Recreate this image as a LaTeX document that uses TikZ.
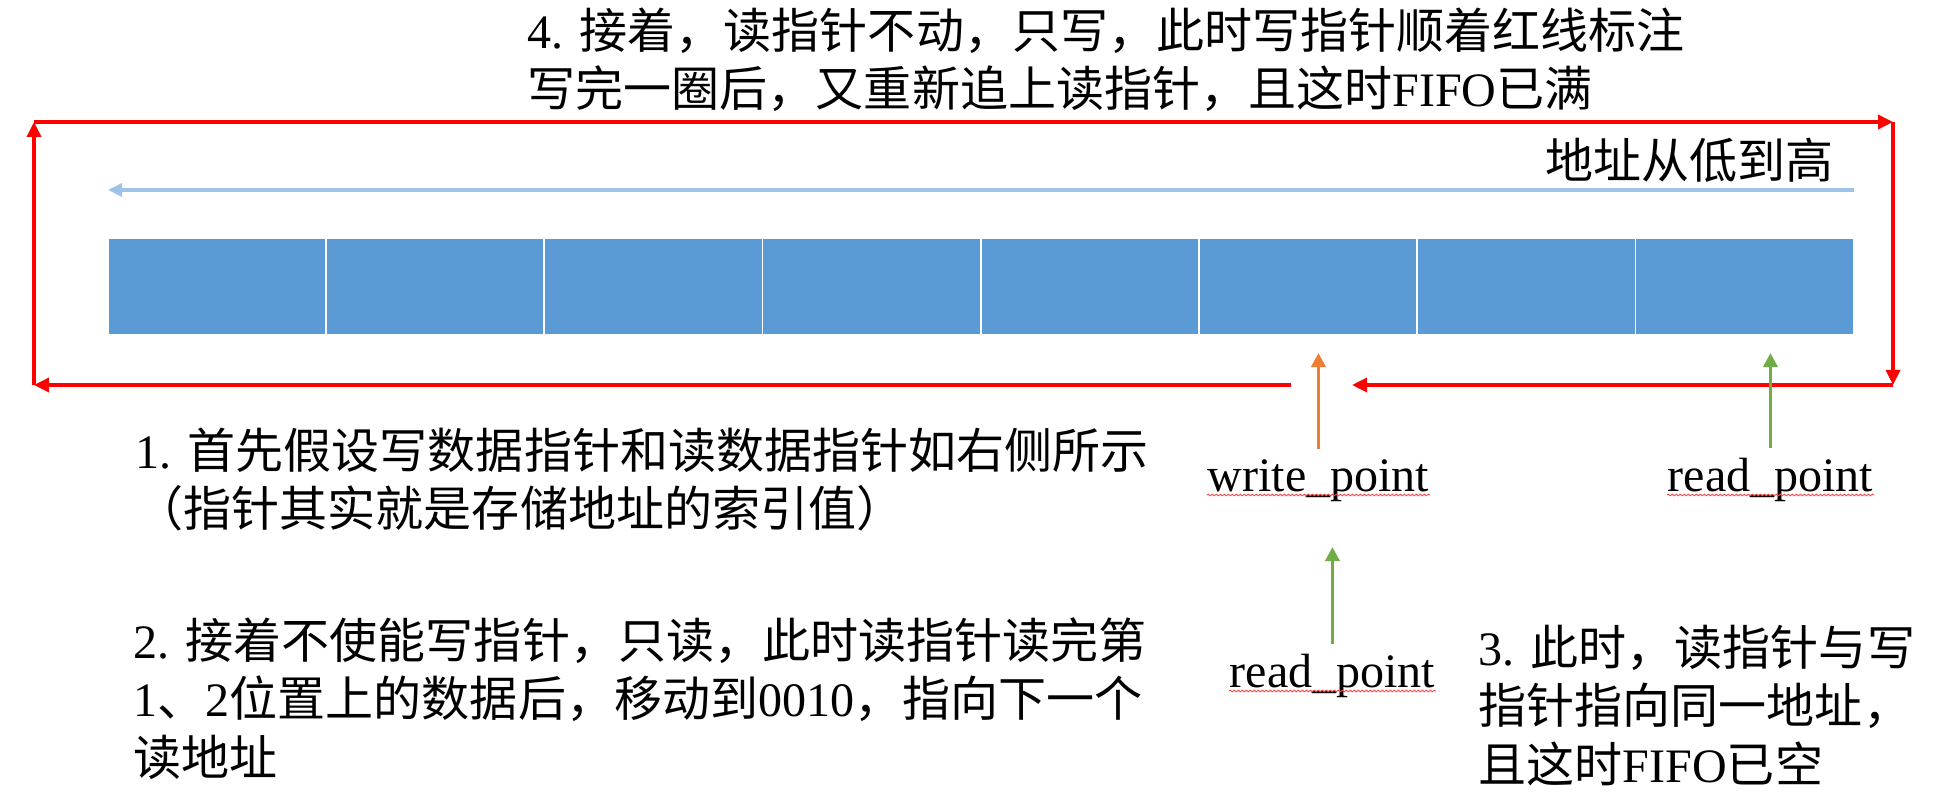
\documentclass[tikz,border=0pt]{standalone}
\usepackage{fontspec}
\setmainfont{Liberation Serif}
\newfontfamily\cjkfont{Noto Sans CJK SC}
\newcommand\zhtxt[1]{{\cjkfont #1}}
\usetikzlibrary{arrows.meta,decorations.pathmorphing}
\definecolor{cellblue}{HTML}{5B9BD5}
\definecolor{addrblue}{HTML}{9DC3E6}
\definecolor{loopred}{HTML}{FF0000}
\definecolor{wporange}{HTML}{ED7D31}
\definecolor{rpgreen}{HTML}{70AD47}
\tikzset{
  cell/.style={fill=cellblue, draw=none, inner sep=0pt, minimum width=2.1625cm, minimum height=0.95cm, anchor=north west},
  txt/.style={inner sep=0pt, anchor=base west, align=left, font=\fontsize{13.66pt}{16.5pt}\selectfont},
  lbl/.style={inner xsep=0pt, inner ysep=0.1cm, anchor=base west, font=\fontsize{13.66pt}{16.5pt}\selectfont},
  loop/.style={draw=loopred, line width=0.034cm, -{Triangle[length=0.15cm,width=0.14cm]}},
  addrarrow/.style={draw=addrblue, line width=0.032cm, -{Triangle[length=0.14cm,width=0.13cm]}},
  ptrarrow/.style={line width=0.035cm, -{Triangle[length=0.14cm,width=0.14cm]}},
  squig/.style={draw=red!75, line width=0.25pt, decorate, decoration={snake, segment length=0.04cm, amplitude=0.008cm}}
}
\begin{document}
\begin{tikzpicture}[x=0.01cm,y=-0.01cm]
\useasboundingbox (0,0) rectangle (1943,795);

% memory cells
\foreach \i in {1,...,8}{
  \node[cell] (c\i) at ({108+218.25*(\i-1)},238) {};
}

% address direction
\draw[addrarrow] ([yshift=0.48cm]c8.north east) -- ([yshift=0.48cm]c1.north west);
\node[txt] (addr) at (1545,179) {\zhtxt{地址从低到高}};

% red loop
\coordinate (BL) at (34,385);
\coordinate (TL) at (34,122);
\coordinate (TR) at (1893,122);
\coordinate (BR) at (1893,385);
\coordinate (gapL) at (1291,385);
\coordinate (gapR) at (1352,385);
\draw[loop] (gapL) -- (BL);
\draw[loop] (BL) -- (TL);
\draw[loop] (TL) -- (TR);
\draw[loop] (TR) -- (BR);
\draw[loop] (BR) -- (gapR);

% pointer labels
\node[lbl] (wp) at (1207,492) {write\_point};
\node[lbl] (rp) at (1667,492) {read\_point};
\node[lbl] (rp2) at (1229,688) {read\_point};
\coordinate (wpT) at (1321,353);
\coordinate (rpT) at (1769,353);
\coordinate (rp2T) at (1331,547);
\draw[ptrarrow, draw=wporange, fill=wporange] (wp.north) -- (wp.north |- wpT);
\draw[ptrarrow, draw=rpgreen, fill=rpgreen] (rp.north) -- (rp.north |- rpT);
\draw[ptrarrow, draw=rpgreen, fill=rpgreen] (rp2.north) -- (rp2.north |- rp2T);
\draw[squig] ([yshift=-0.03cm]wp.base west) -- ([yshift=-0.03cm]wp.base east);
\draw[squig] ([yshift=-0.03cm]rp.base west) -- ([yshift=-0.03cm]rp.base east);
\draw[squig] ([yshift=-0.03cm]rp2.base west) -- ([yshift=-0.03cm]rp2.base east);

% explanations (anchor = baseline of the last line)
\node[txt] (t4) at (527,107) {4. \zhtxt{接着，读指针不动，只写，此时写指针顺着红线标注}\\
\zhtxt{写完一圈后，又重新追上读指针，且这时}FIFO\zhtxt{已满}};
\node[txt] (t1) at (135,527) {1. \zhtxt{首先假设写数据指针和读数据指针如右侧所示}\\
\zhtxt{（指针其实就是存储地址的索引值）}};
\node[txt] (t2) at (133,775) {2. \zhtxt{接着不使能写指针，只读，此时读指针读完第}\\
1\zhtxt{、}2\zhtxt{位置上的数据后，移动到}0010\zhtxt{，指向下一个}\\
\zhtxt{读地址}};
\node[txt] (t3) at (1478,782) {3. \zhtxt{此时，读指针与写}\\
\zhtxt{指针指向同一地址，}\\
\zhtxt{且这时}FIFO\zhtxt{已空}};
\end{tikzpicture}
\end{document}
